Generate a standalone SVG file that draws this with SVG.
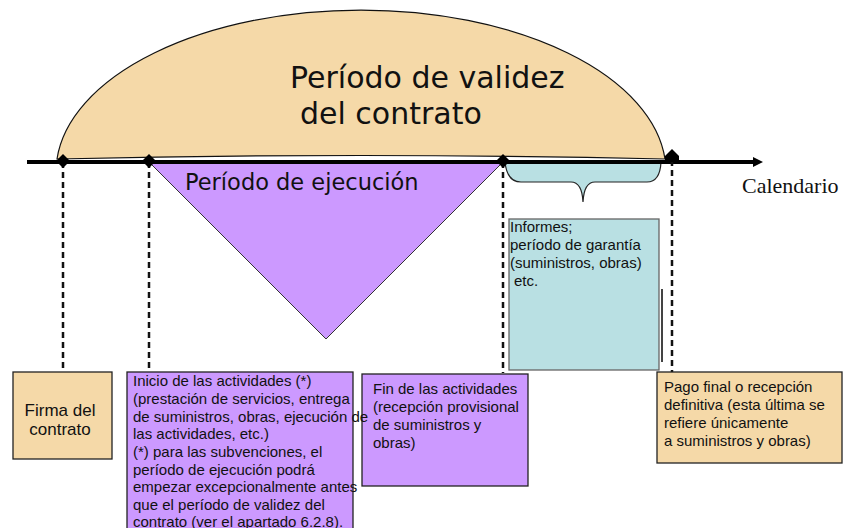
<svg xmlns="http://www.w3.org/2000/svg" width="843" height="528" viewBox="0 0 843 528">
<style>
.box{stroke:#222;stroke-width:1.3}
.wheat{fill:#F5D9A8}
.purple{fill:#CC99FF}
.blue{fill:#B9E0E3}
.t{font-family:"Liberation Sans",Arial,sans-serif;font-size:15px;fill:#111}
.t17{font-family:"Liberation Sans",Arial,sans-serif;font-size:17px;fill:#111}
.big{font-family:"DejaVu Sans",Verdana,sans-serif;fill:#111}
.dash{stroke:#111;stroke-width:2.5;stroke-dasharray:6 4;fill:none}
.dia{fill:#000}
</style>
<defs>
<marker id="arr" markerWidth="10" markerHeight="10" refX="1" refY="5" orient="auto" markerUnits="userSpaceOnUse">
<path d="M0,0 L10,5 L0,10 Z" fill="#000"/>
</marker>
</defs>

<g id="dome">
<path d="M57,159 A305 162 0 0 1 665,159 Q361,152 57,159 Z" class="wheat" stroke="#111" stroke-width="1.2"/>
<text class="big" x="290" y="88" font-size="30">Período de validez</text>
<text class="big" x="300" y="124" font-size="30">del contrato</text>
</g>

<g id="brace">
<path d="M505,162 Q507,182 521,182 L571,182 Q582,182 583,202 Q584,182 595,182 L647,182 Q660,182 661,162 Z" class="blue" stroke="#222" stroke-width="1.2"/>
</g>

<g id="ejecucion">
<path d="M149,162 L503,162 L326,339 Z" class="purple" stroke="#333" stroke-width="1"/>
<text class="big" x="185" y="190" font-size="22.5">Período de ejecución</text>
</g>

<g id="connectors">
<line x1="27" y1="162" x2="754" y2="162" stroke="#000" stroke-width="4" marker-end="url(#arr)"/>
<line x1="63" y1="162" x2="63" y2="372" class="dash"/>
<line x1="149" y1="162" x2="149" y2="372" class="dash"/>
<line x1="503" y1="162" x2="503" y2="373" class="dash"/>
<line x1="672" y1="160" x2="672" y2="372" class="dash"/>
<line x1="662" y1="289" x2="662" y2="362" stroke="#444" stroke-width="2"/>
<path class="dia" d="M63,154 L70,161 L63,168 L56,161 Z"/>
<path class="dia" d="M149,154 L156,161 L149,168 L142,161 Z"/>
<path class="dia" d="M503,154 L510,161 L503,168 L496,161 Z"/>
<path class="dia" d="M672,149 L679,156 L679,162 L665,162 L665,156 Z"/>
</g>

<text x="742" y="193" font-family="'Liberation Serif','Times New Roman',serif" font-size="22" fill="#111">Calendario</text>

<g id="informes">
<rect x="509" y="219" width="150" height="151" class="blue" stroke="#666" stroke-width="1.3"/>
<text class="t" x="510" y="232">Informes;</text>
<text class="t" x="510" y="250">período de garantía</text>
<text class="t" x="510" y="268">(suministros, obras)</text>
<text class="t" x="514" y="286">etc.</text>
</g>

<g id="firma">
<rect x="13" y="372" width="99" height="87" class="box wheat"/>
<text class="t17" x="60" y="416" text-anchor="middle">Firma del</text>
<text class="t17" x="60" y="435" text-anchor="middle">contrato</text>
</g>

<g id="fin">
<rect x="362" y="374" width="166" height="112" class="box purple"/>
<text class="t" x="373" y="394">Fin de las actividades</text>
<text class="t" x="373" y="412">(recepción provisional</text>
<text class="t" x="373" y="430">de suministros y</text>
<text class="t" x="373" y="448">obras)</text>
</g>

<g id="inicio">
<rect x="127" y="372" width="226" height="170" class="box purple"/>
<text class="t" x="133" y="386">Inicio de las actividades (*)</text>
<text class="t" x="133" y="404">(prestación de servicios, entrega</text>
<text class="t" x="133" y="421.5">de suministros, obras, ejecución de</text>
<text class="t" x="133" y="439">las actividades, etc.)</text>
<text class="t" x="133" y="457">(*) para las subvenciones, el</text>
<text class="t" x="133" y="474.5">período de ejecución podrá</text>
<text class="t" x="133" y="492">empezar excepcionalmente antes</text>
<text class="t" x="133" y="510">que el período de validez del</text>
<text class="t" x="133" y="527">contrato (ver el apartado 6.2.8).</text>
</g>

<g id="pago">
<rect x="657" y="372" width="185" height="91" class="box wheat"/>
<text class="t" x="664" y="392">Pago final o recepción</text>
<text class="t" x="664" y="410">definitiva (esta última se</text>
<text class="t" x="664" y="428">refiere únicamente</text>
<text class="t" x="664" y="446">a suministros y obras)</text>
</g>
</svg>
